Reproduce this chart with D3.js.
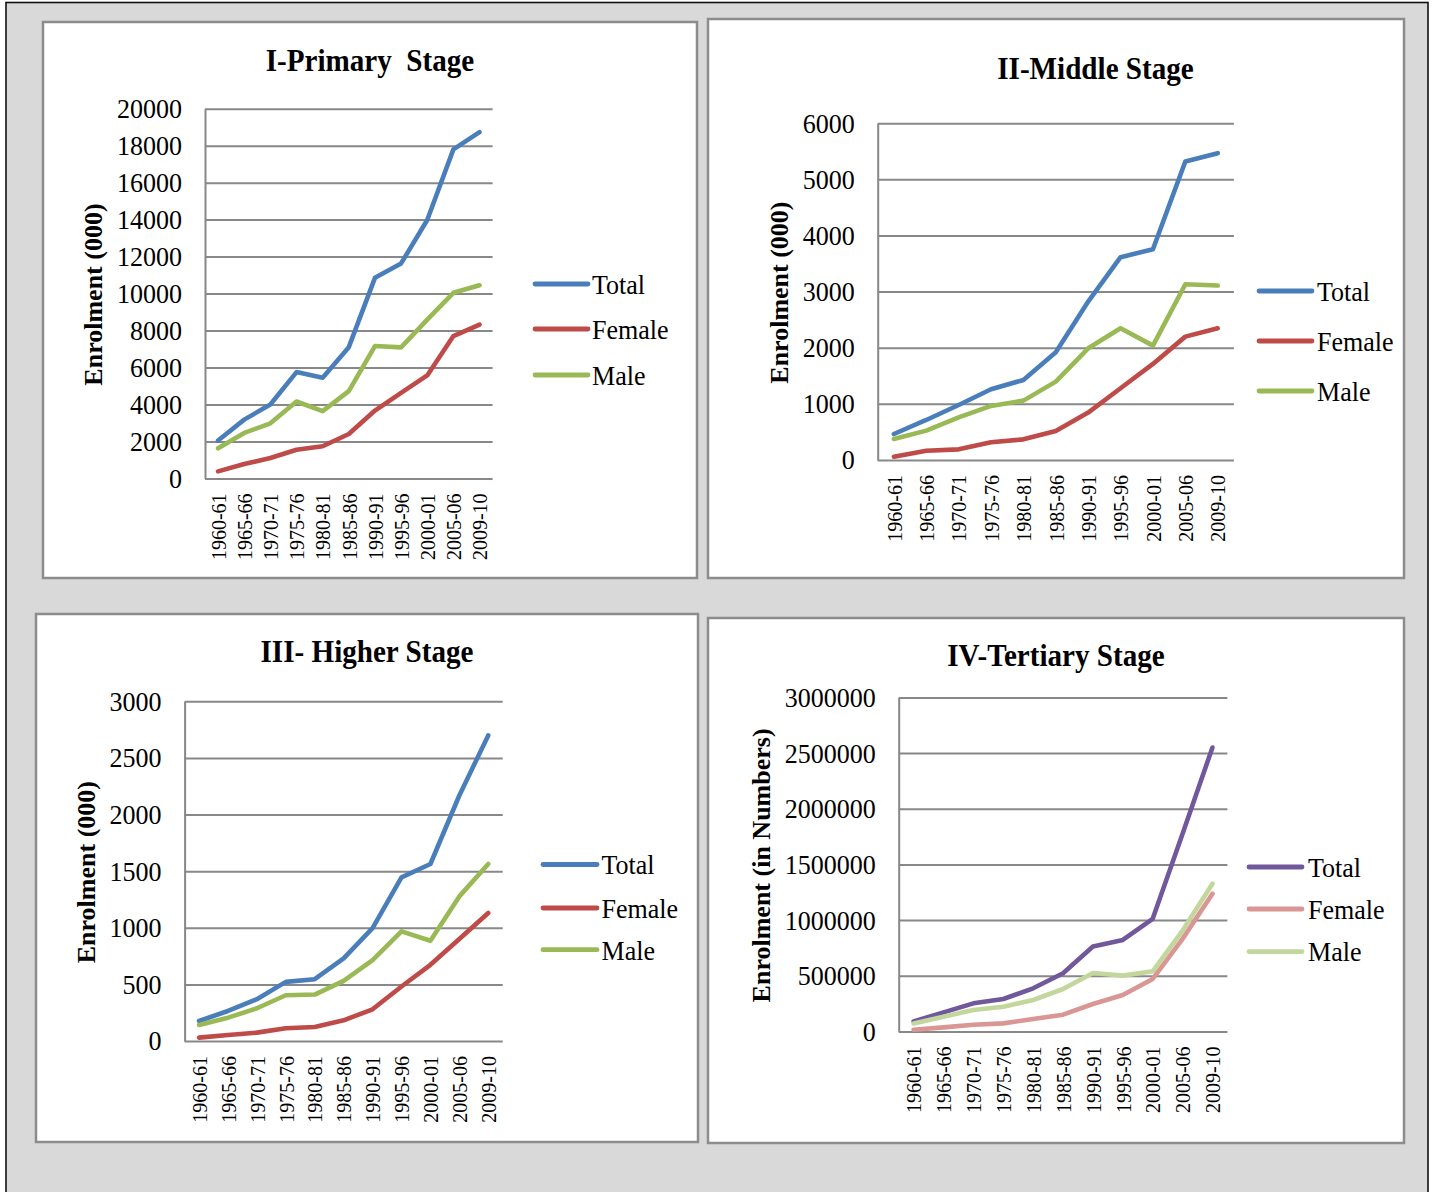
<!DOCTYPE html>
<html>
<head>
<meta charset="utf-8">
<script src="https://cdn.jsdelivr.net/npm/d3@7"></script>
<style>
  html, body { margin: 0; padding: 0; background: #ffffff; }
  svg { display: block; }
  text { font-family: "Liberation Serif", "Times New Roman", serif; fill: #000; }
</style>
</head>
<body>
<svg id="fig" width="1433" height="1192"></svg>
<script>
// Enrolment by stage, 1960-61 to 2009-10
const periods = ["1960-61", "1965-66", "1970-71", "1975-76", "1980-81", "1985-86",
                 "1990-91", "1995-96", "2000-01", "2005-06", "2009-10"];
const seriesNames = ["Total", "Female", "Male"];

// I - Primary stage, enrolment in thousands
const primaryTotal  = [2050, 3180, 4000, 5750, 5450, 7100, 10850, 11630, 13980, 17800, 18730];
const primaryFemale = [380, 780, 1100, 1550, 1740, 2400, 3670, 4630, 5570, 7700, 8320];
const primaryMale   = [1630, 2460, 2980, 4160, 3640, 4720, 7160, 7090, 8590, 10040, 10450];
const primaryTicks  = [0, 2000, 4000, 6000, 8000, 10000, 12000, 14000, 16000, 18000, 20000];

// II - Middle stage, enrolment in thousands
const middleTotal  = [463, 713, 980, 1260, 1426, 1919, 2822, 3613, 3755, 5318, 5466];
const middleFemale = [59, 166, 190, 315, 368, 517, 844, 1278, 1711, 2198, 2347];
const middleMale   = [374, 523, 760, 963, 1058, 1396, 1990, 2347, 2038, 3131, 3108];
const middleTicks  = [0, 1000, 2000, 3000, 4000, 5000, 6000];

// III - Higher stage, enrolment in thousands
const higherTotal  = [177, 265, 369, 522, 546, 729, 997, 1445, 1563, 2168, 2699];
const higherFemale = [30, 53, 74, 112, 124, 183, 280, 481, 673, 900, 1130];
const higherMale   = [142, 206, 289, 404, 410, 531, 714, 968, 885, 1277, 1563];
const higherTicks  = [0, 500, 1000, 1500, 2000, 2500, 3000];

// IV - Tertiary stage, enrolment in numbers
const tertiaryTotal  = [90000, 171000, 252000, 291000, 387000, 522000, 762000, 822000, 1011000, 1776000, 2550000];
const tertiaryFemale = [15000, 36000, 60000, 72000, 111000, 150000, 246000, 327000, 471000, 831000, 1236000];
const tertiaryMale   = [72000, 132000, 192000, 222000, 282000, 381000, 525000, 501000, 540000, 906000, 1326000];
const tertiaryTicks  = [0, 500000, 1000000, 1500000, 2000000, 2500000, 3000000];

const panels = [
  {
    title: "I-Primary\u00a0\u00a0Stage", yTitle: "Enrolment (000)",
    series: [primaryTotal, primaryFemale, primaryMale], ticks: primaryTicks,
    colors: ["#4a7ebb", "#be4b48", "#98b954"],
    box: [43, 22, 697, 578], plot: [205, 108.7, 492.6, 478.4],
    titlePos: [370, 71], yTitleX: 102, legend: { x1: 535, x2: 588, tx: 592, ys: [284, 329, 375] }
  },
  {
    title: "II-Middle Stage", yTitle: "Enrolment (000)",
    series: [middleTotal, middleFemale, middleMale], ticks: middleTicks,
    colors: ["#4a7ebb", "#be4b48", "#98b954"],
    box: [708, 19, 1404, 578], plot: [877.7, 123.2, 1233.9, 460],
    titlePos: [1095.5, 78.5], yTitleX: 788, legend: { x1: 1259, x2: 1312, tx: 1317, ys: [291, 341, 391] }
  },
  {
    title: "III- Higher Stage", yTitle: "Enrolment (000)",
    series: [higherTotal, higherFemale, higherMale], ticks: higherTicks,
    colors: ["#4a7ebb", "#be4b48", "#98b954"],
    box: [36, 614, 698, 1142], plot: [184.6, 701.3, 502.7, 1041],
    titlePos: [367, 662], yTitleX: 95, legend: { x1: 543, x2: 597, tx: 601.5, ys: [864.5, 908, 949.7] }
  },
  {
    title: "IV-Tertiary Stage", yTitle: "Enrolment (in Numbers)",
    series: [tertiaryTotal, tertiaryFemale, tertiaryMale], ticks: tertiaryTicks,
    colors: ["#71589b", "#d99694", "#c3d69b"],
    box: [708, 618, 1404, 1143], plot: [898.7, 697.4, 1227.4, 1031.4],
    titlePos: [1056, 666], yTitleX: 770, legend: { x1: 1249, x2: 1302, tx: 1308, ys: [867, 909, 951.6] }
  }
];

// horizontal text is set slightly narrow, as in the printed figure
const squeeze = 0.93;
const serif = "Liberation Serif, Times New Roman, serif";

const svg = d3.select("#fig");

// grey sheet with a dark frame on top, left and right
svg.append("rect")
  .attr("x", 6).attr("y", 2.5).attr("width", 1422).attr("height", 1200)
  .attr("fill", "#d9d9d9").attr("stroke", "#111").attr("stroke-width", 1.6);

const gridColor = "#888888";

panels.forEach(p => {
  const g = svg.append("g");
  const [bx0, by0, bx1, by1] = p.box;
  const [px0, py0, px1, py1] = p.plot;

  g.append("rect")
    .attr("x", bx0).attr("y", by0).attr("width", bx1 - bx0).attr("height", by1 - by0)
    .attr("fill", "#ffffff").attr("stroke", "#8c8c8c").attr("stroke-width", 2.5);

  const x = d3.scalePoint().domain(periods).range([px0, px1]).padding(0.5);
  const y = d3.scaleLinear().domain([0, d3.max(p.ticks)]).range([py1, py0]);

  // value axis with horizontal gridlines
  const yAxis = g.append("g")
    .attr("transform", `translate(${px0},0)`)
    .call(d3.axisLeft(y).tickValues(p.ticks).tickFormat(d3.format("d"))
      .tickSize(-(px1 - px0)).tickSizeOuter(0).tickPadding(23));
  yAxis.select(".domain").attr("stroke", gridColor).attr("stroke-width", 2);
  yAxis.selectAll(".tick line").attr("stroke", gridColor).attr("stroke-width", 2);
  yAxis.selectAll(".tick text")
    .attr("x", -23 / squeeze)
    .attr("transform", `scale(${squeeze},1)`)
    .attr("font-size", 28).attr("fill", "#000")
    .attr("font-family", serif);

  // category axis with vertical labels
  const xAxis = g.append("g")
    .attr("transform", `translate(0,${py1})`)
    .call(d3.axisBottom(x).tickSize(0));
  xAxis.select(".domain").remove();
  xAxis.selectAll(".tick text")
    .attr("transform", "rotate(-90)")
    .attr("x", -15).attr("y", 0).attr("dy", "0.36em")
    .attr("text-anchor", "end")
    .attr("font-size", 20).attr("fill", "#000")
    .attr("font-family", serif);

  // series lines
  const line = d3.line()
    .x((d, i) => x(periods[i]))
    .y(d => y(d));
  p.series.forEach((vals, k) => {
    g.append("path")
      .datum(vals)
      .attr("d", line)
      .attr("fill", "none")
      .attr("stroke", p.colors[k])
      .attr("stroke-width", 4.6)
      .attr("stroke-linejoin", "round")
      .attr("stroke-linecap", "round");
  });

  // chart title
  g.append("text")
    .attr("transform", `translate(${p.titlePos[0]},${p.titlePos[1]}) scale(${squeeze},1)`)
    .attr("text-anchor", "middle")
    .attr("font-size", 31.3).attr("font-weight", "bold")
    .text(p.title);

  // value axis title
  g.append("text")
    .attr("transform", `translate(${p.yTitleX},${(py0 + py1) / 2 + 1}) rotate(-90)`)
    .attr("text-anchor", "middle")
    .attr("font-size", 26).attr("font-weight", "bold")
    .text(p.yTitle);

  // legend
  seriesNames.forEach((name, k) => {
    const ly = p.legend.ys[k];
    g.append("line")
      .attr("x1", p.legend.x1).attr("x2", p.legend.x2)
      .attr("y1", ly).attr("y2", ly)
      .attr("stroke", p.colors[k]).attr("stroke-width", 4.8)
      .attr("stroke-linecap", "round");
    g.append("text")
      .attr("transform", `translate(${p.legend.tx},${ly}) scale(${squeeze},1)`)
      .attr("dy", "0.35em")
      .attr("font-size", 28)
      .text(name);
  });
});
</script>
</body>
</html>
